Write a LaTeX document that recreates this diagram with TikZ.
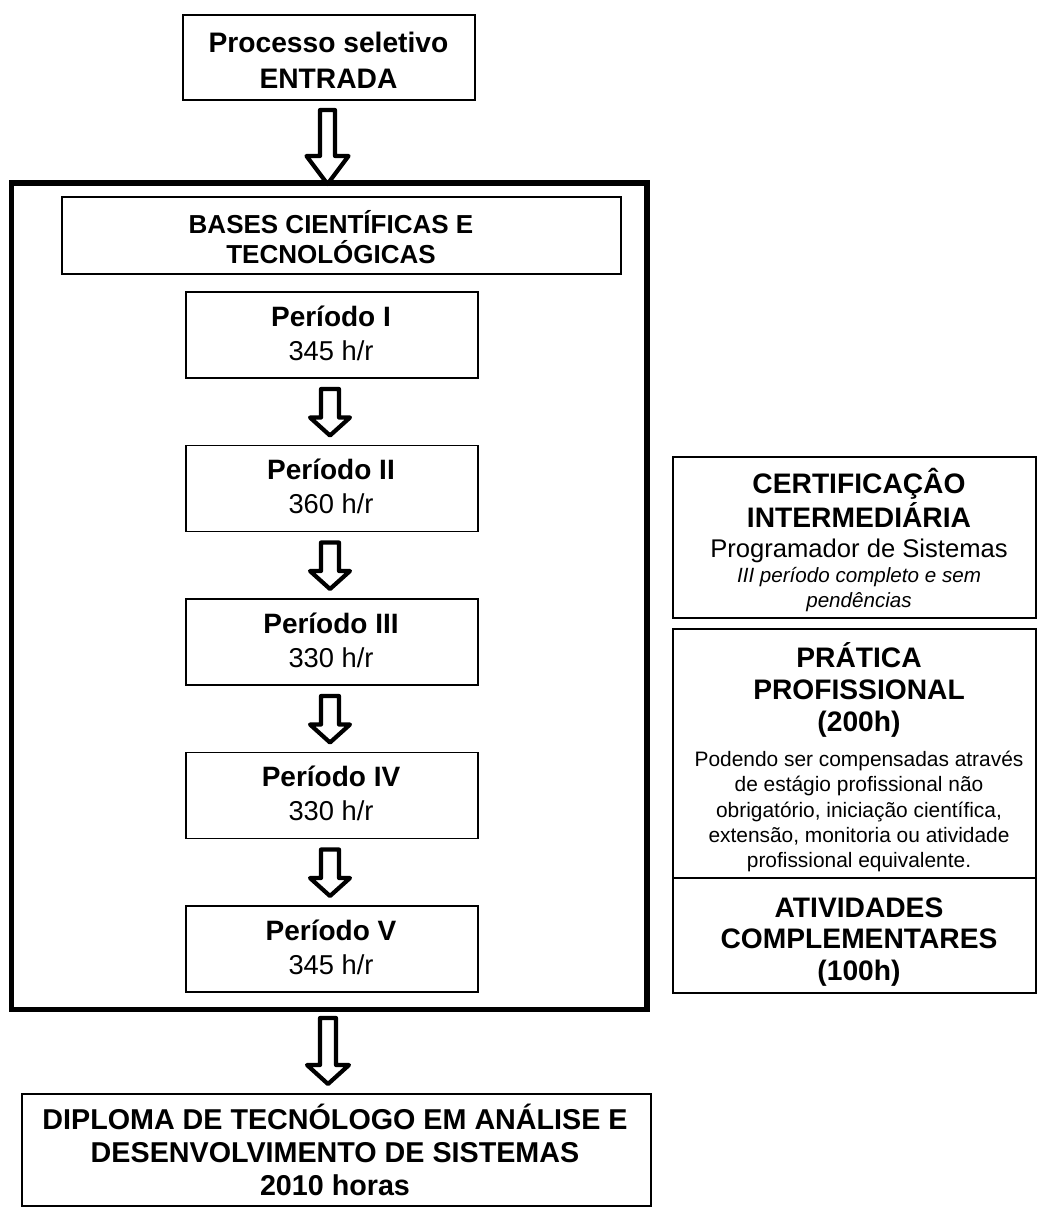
\documentclass[tikz,border=0pt]{standalone}
\usepackage{fontspec}
\setmainfont{Liberation Sans}
\usetikzlibrary{calc}
\newcommand{\ftitle}{\fontsize{28.2}{34}\selectfont\bfseries}
\newcommand{\fbases}{\fontsize{26}{30}\selectfont\bfseries}
\newcommand{\fper}{\fontsize{28}{34}\selectfont\bfseries}
\newcommand{\fhr}{\fontsize{27.3}{33}\selectfont}
\newcommand{\fprog}{\fontsize{25.6}{30}\selectfont}
\newcommand{\fital}{\fontsize{20.6}{25}\selectfont\itshape}
\newcommand{\fsmall}{\fontsize{20.9}{25}\selectfont}
\newcommand{\fdipl}{\fontsize{28.7}{34}\selectfont\bfseries}
% block arrow: #1 shaft top centre, #2 tip, #3 shaft half-width, #4 head half-width, #5 head length
\newcommand{\blockarr}[5]{%
  \draw[blockarrow] let \p1=(#1), \p2=(#2) in
    (\x1-#3pt,\y1) -- (\x1-#3pt,\y2+#5pt) -- (\x1-#4pt,\y2+#5pt) -- (\x1,\y2)
    -- (\x1+#4pt,\y2+#5pt) -- (\x1+#3pt,\y2+#5pt) -- (\x1+#3pt,\y1) -- cycle;}
\tikzset{
  box/.style={draw, line width=1.3pt, inner sep=0pt, outer sep=0pt},
  frm/.style={draw, line width=5.5pt, inner sep=0pt, outer sep=0pt},
  txt/.style={anchor=base, inner sep=0pt, outer sep=0pt},
  blockarrow/.style={draw, line width=4.2pt, line join=round}
}
\begin{document}
\begin{tikzpicture}[x=1pt,y=-1pt]
\useasboundingbox (0,0) rectangle (1037,1208);

% ---- boxes
\node[box, minimum width=292pt, minimum height=85pt] (entrada) at (329,57.5) {};
\node[frm, minimum width=635.5pt, minimum height=826.5pt] (frame) at (329.25,596.25) {};
\node[box, minimum width=559pt, minimum height=77pt] (bases) at (341.5,235.5) {};
\node[box, minimum width=363pt, minimum height=161pt] (cert) at (854.5,537.5) {};
\node[box, minimum width=363pt, minimum height=249pt] (prat) at (854.5,753.5) {};
\node[box, minimum width=363pt, minimum height=115pt] (ativ) at (854.5,935.5) {};
\node[box, minimum width=629pt, minimum height=112pt] (dipl) at (336.5,1150) {};

% ---- texts
\node[txt, font=\ftitle] (entrada1) at (328.5,52) {Processo seletivo};
\node[txt, font=\ftitle] (entrada2) at (328.5,88) {ENTRADA};
\node[txt, font=\fbases] (bases1) at (331,233) {BASES CIENTÍFICAS E};
\node[txt, font=\fbases] (bases2) at (331,263) {TECNOLÓGICAS};

\foreach \i/\nm/\hr/\tp in {1/I/345/292, 2/II/360/445.5, 3/III/330/599, 4/IV/330/752.5, 5/V/345/906} {
  \node[box, minimum width=292pt, minimum height=86pt] (p\i) at (332,\tp+43) {};
  \node[txt, font=\fper] (p\i n) at (331,\tp+34) {Período \nm};
  \node[txt, font=\fhr] (p\i h) at (331,\tp+68) {\hr\ h/r};
}

\node[txt, font=\ftitle] (cert1) at (859,493) {CERTIFICAÇÂO};
\node[txt, font=\ftitle] (cert2) at (859,527) {INTERMEDIÁRIA};
\node[txt, font=\fprog] (cert3) at (859,557) {Programador de Sistemas};
\node[txt, font=\fital] (cert4) at (859,582) {III período completo e sem};
\node[txt, font=\fital] (cert5) at (859,607) {pendências};

\node[txt, font=\ftitle] (prat1) at (859,667) {PRÁTICA};
\node[txt, font=\ftitle] (prat2) at (859,699) {PROFISSIONAL};
\node[txt, font=\ftitle] (prat3) at (859,731) {(200h)};
\node[txt, font=\fsmall] (prat4) at (859,766) {Podendo ser compensadas através};
\node[txt, font=\fsmall] (prat5) at (859,791) {de estágio profissional não};
\node[txt, font=\fsmall] (prat6) at (859,817) {obrigatório, iniciação científica,};
\node[txt, font=\fsmall] (prat7) at (859,842) {extensão, monitoria ou atividade};
\node[txt, font=\fsmall] (prat8) at (859,867) {profissional equivalente.};

\node[txt, font=\ftitle] (ativ1) at (859,917) {ATIVIDADES};
\node[txt, font=\ftitle] (ativ2) at (859,948) {COMPLEMENTARES};
\node[txt, font=\ftitle] (ativ3) at (859,980) {(100h)};

\node[txt, font=\fdipl] (dipl1) at (335,1129) {DIPLOMA DE TECNÓLOGO EM ANÁLISE E};
\node[txt, font=\fdipl] (dipl2) at (335,1162) {DESENVOLVIMENTO DE SISTEMAS};
\node[txt, font=\fdipl] (dipl3) at (335,1195) {2010 horas};

% ---- block arrows
\coordinate (t0) at (entrada.south |- frame.north);
\coordinate (a0s) at ($(entrada.south)+(-1.5,10)$);
\coordinate (a0e) at ($(t0)+(-1.5,1)$);
\blockarr{a0s}{a0e}{7.5}{21}{28}

\foreach \i/\j in {1/2,2/3,3/4,4/5} {
  \coordinate (s\i) at ($(p\i.south)+(-2,11)$);
  \coordinate (e\i) at ($(p\j.north)+(-2,-10)$);
  \blockarr{s\i}{e\i}{9}{20}{18}
}

\coordinate (t5) at (p5.south |- frame.south);
\coordinate (t6) at (p5.south |- dipl.north);
\coordinate (a5s) at ($(t5)+(-4,8.5)$);
\coordinate (a5e) at ($(t6)+(-4,-10)$);
\blockarr{a5s}{a5e}{8}{21}{19}
\end{tikzpicture}
\end{document}
